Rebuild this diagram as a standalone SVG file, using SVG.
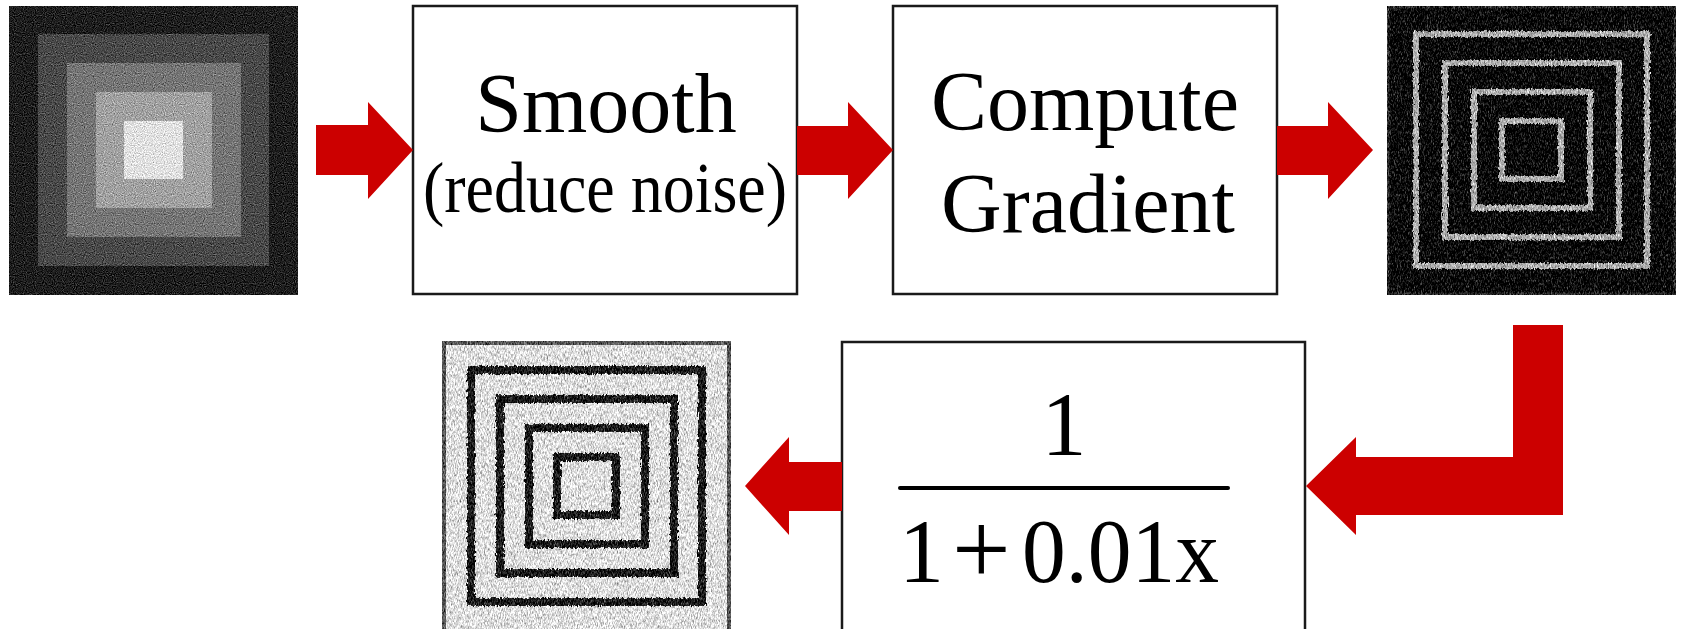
<svg xmlns="http://www.w3.org/2000/svg" width="1682" height="629" viewBox="0 0 1682 629">
  <style>
    .box { fill: #ffffff; stroke: #1a1a1a; stroke-width: 2.5; }
    .lbl { font-family: "Liberation Serif", "Times New Roman", serif; fill: #000000; text-anchor: middle; }
    .big { font-size: 84px; }
    .mid { font-size: 72px; }
    .math { font-size: 90px; }
    .arrow { fill: #cc0000; stroke: none; }
    .ring2 { fill: none; stroke: #b0b0b0; stroke-width: 6; }
    .ring3 { fill: none; stroke: #1c1c1c; stroke-width: 8; }
  </style>
  <defs>
    <filter id="grain" x="0" y="0" width="1" height="1" color-interpolation-filters="sRGB">
      <feTurbulence type="fractalNoise" baseFrequency="0.9" numOctaves="1" seed="4" result="t"/>
      <feColorMatrix in="t" type="matrix" values="0.33 0.33 0.33 0 0  0.33 0.33 0.33 0 0  0.33 0.33 0.33 0 0  0 0 0 0 1" result="g"/>
      <feComposite in="SourceGraphic" in2="g" operator="arithmetic" k1="0" k2="1" k3="1.2" k4="-0.6"/>
    </filter>
    <filter id="streak" x="0" y="0" width="1" height="1" color-interpolation-filters="sRGB">
      <feTurbulence type="fractalNoise" baseFrequency="1.3 0.35" numOctaves="2" seed="9" result="t"/>
      <feColorMatrix in="t" type="matrix" values="0.33 0.33 0.33 0 0  0.33 0.33 0.33 0 0  0.33 0.33 0.33 0 0  0 0 0 0 1" result="g"/>
      <feComposite in="SourceGraphic" in2="g" operator="arithmetic" k1="0" k2="1" k3="1.6" k4="-0.8"/>
    </filter>
    <filter id="jag" x="-5%" y="-5%" width="110%" height="110%">
      <feTurbulence type="fractalNoise" baseFrequency="0.7 0.3" numOctaves="1" seed="2" result="n"/>
      <feDisplacementMap in="SourceGraphic" in2="n" scale="5" xChannelSelector="R" yChannelSelector="G"/>
    </filter>
  </defs>

  <rect x="0" y="0" width="1682" height="629" fill="#ffffff"/>

  <!-- Input image -->
  <g id="img-input" filter="url(#grain)">
    <rect x="9" y="6" width="289" height="289" fill="#1f1f1f"/>
    <rect x="38" y="34" width="231" height="232" fill="#4a4a4a"/>
    <rect x="67" y="63" width="174" height="174" fill="#767676"/>
    <rect x="96" y="92" width="116" height="116" fill="#a2a2a2"/>
    <rect x="124" y="121" width="59" height="58" fill="#e2e2e2"/>
  </g>

  <!-- Smooth box -->
  <g id="box-smooth">
    <rect class="box" x="413" y="6" width="384" height="288"/>
    <text class="lbl big" x="606" y="132">Smooth</text>
    <text class="lbl mid" x="605" y="212" textLength="364" lengthAdjust="spacingAndGlyphs">(reduce noise)</text>
  </g>

  <!-- Compute Gradient box -->
  <g id="box-gradient">
    <rect class="box" x="893" y="6" width="384" height="288"/>
    <text class="lbl big" x="1085" y="130">Compute</text>
    <text class="lbl big" x="1088" y="232">Gradient</text>
  </g>

  <!-- Gradient image -->
  <g id="img-gradient" filter="url(#streak)">
    <rect x="1387" y="6" width="289" height="289" fill="#080808"/>
    <g filter="url(#jag)">
      <rect class="ring2" x="1416" y="34" width="231" height="232"/>
      <rect class="ring2" x="1445" y="63" width="174" height="174"/>
      <rect class="ring2" x="1474" y="92" width="116" height="116"/>
      <rect class="ring2" x="1502" y="121" width="59" height="58"/>
    </g>
    <rect x="1388" y="7" width="287" height="287" fill="none" stroke="#2a2a2a" stroke-width="3"/>
  </g>

  <!-- Formula box -->
  <g id="box-formula">
    <rect class="box" x="842" y="342" width="463" height="310"/>
    <text class="lbl math" x="1064" y="455">1</text>
    <line x1="900" y1="488" x2="1228" y2="488" stroke="#000000" stroke-width="4" stroke-linecap="round"/>
    <text class="lbl math" style="text-anchor:start" y="582"><tspan x="899">1</tspan><tspan x="1022" textLength="197" lengthAdjust="spacingAndGlyphs">0.01x</tspan></text>
    <text class="lbl" style="text-anchor:start; font-size:104px" x="952" y="584">+</text>
  </g>

  <!-- Output image -->
  <g id="img-output" filter="url(#streak)">
    <rect x="442" y="341" width="289" height="289" fill="#e0e0e0"/>
    <g filter="url(#jag)">
      <rect class="ring3" x="471" y="370" width="231" height="232"/>
      <rect class="ring3" x="500" y="399" width="174" height="174"/>
      <rect class="ring3" x="529" y="428" width="116" height="116"/>
      <rect class="ring3" x="557" y="457" width="59" height="58"/>
    </g>
    <rect x="444" y="343" width="285" height="290" fill="none" stroke="#555555" stroke-width="4"/>
  </g>

  <!-- Connectors -->
  <g id="connectors">
    <polygon class="arrow" points="316,125 368,125 368,102 413,150 368,199 368,175 316,175"/>
    <polygon class="arrow" points="797,126 848,126 848,102 893,150 848,199 848,175 797,175"/>
    <polygon class="arrow" points="1277,126 1328,126 1328,102 1373,150 1328,199 1328,175 1277,175"/>
    <polygon class="arrow" points="1513,325 1563,325 1563,515 1356,515 1356,535 1306,486 1356,437 1356,457 1513,457"/>
    <polygon class="arrow" points="842,462 789,462 789,437 745,486 789,535 789,511 842,511"/>
  </g>
</svg>
